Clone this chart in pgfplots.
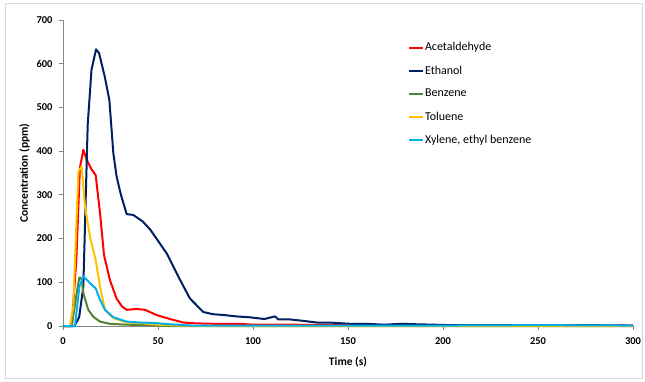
\documentclass[border=0pt]{standalone}
\usepackage{pgfplots}
\pgfplotsset{compat=1.18}
\usepackage{fontspec}
\setmainfont{Carlito}

\definecolor{acetred}{HTML}{FF0000}
\definecolor{ethnavy}{HTML}{002060}
\definecolor{benzgreen}{HTML}{548235}
\definecolor{tolyellow}{HTML}{FFC000}
\definecolor{xylblue}{HTML}{00B0F0}
\definecolor{axisgray}{HTML}{868686}
\definecolor{framegray}{HTML}{D9D9D9}

\begin{document}
\begin{tikzpicture}
% chart area frame
\draw[framegray, line width=0.8pt] (-58pt,-52pt) rectangle (579pt,323pt);
\path (-63pt,-55pt) rectangle (582pt,326pt);
\begin{axis}[
  at={(0pt,0pt)}, anchor=south west,
  scale only axis,
  width=570pt, height=306pt,
  xmin=0, xmax=300, ymin=0, ymax=700,
  xtick={0,50,...,300},
  ytick={0,100,...,700},
  axis x line*=bottom,
  axis y line*=left,
  axis line style={axisgray, line width=0.9pt, -},
  tick style={axisgray, line width=0.8pt},
  tick align=outside,
  major tick length=4pt,
  /pgf/number format/assume math mode=true,
  /pgf/number format/1000 sep={},
  ticklabel style={font=\bfseries\fontsize{10.5}{12}\selectfont},
  xticklabel style={yshift=-4pt},
  yticklabel style={xshift=-3pt},
  xlabel={\bfseries Time (s)},
  ylabel={\bfseries Concentration (ppm)},
  label style={font=\bfseries\fontsize{11.5}{13}\selectfont},
  xlabel style={yshift=-6pt},
  ylabel style={yshift=0pt},
  legend style={at={(0.605,0.93)}, anchor=north west, draw=none, fill=none,
    font=\fontsize{12}{13}\selectfont, row sep=11.5pt,
    inner sep=0pt, nodes={inner sep=1pt}},
  legend cell align=left,
  legend image code/.code={\draw[#1, line width=2pt] (0pt,0pt) -- (14pt,0pt);},
  every axis plot/.append style={line width=2pt, line join=round},
  clip=false,
]
% Acetaldehyde
\addplot[acetred] coordinates {
 (0,0) (4.6,0) (7,150) (8.9,362) (10.7,403) (12.5,380) (14.8,360) (17.2,345)
 (19.5,258) (21.6,162) (24.7,105) (28.2,63) (31,45) (33.5,37) (38.8,39)
 (43.2,37) (49.3,25) (56.3,16) (63.3,8) (70,6) (80,5) (93,5) (100,3)
 (120,3) (150,2) (200,2) (250,1) (300,1)};
\addlegendentry{Acetaldehyde}
% Ethanol
\addplot[ethnavy] coordinates {
 (0,0) (6,0) (8.5,20) (10.7,90) (13,460) (15,586) (17.4,633) (19,624)
 (22,570) (24.4,517) (26.5,395) (28.2,342) (30.5,300) (33.5,256) (37,254)
 (42,239) (46,220) (50,195) (54.6,166) (60.7,113) (66.8,63) (73.8,32)
 (79,27) (85,25) (91,22) (98,20) (106,16) (111.6,22) (113.3,15) (119.5,15)
 (126,12) (133.5,8) (140,8) (151,5) (160,5) (169,3) (178,5) (186,4)
 (195,3) (204,2) (215,2) (230,2) (245,2) (260,1) (275,2) (300,1)};
\addlegendentry{Ethanol}
% Benzene
\addplot[benzgreen] coordinates {
 (0,0) (4.6,0) (7.2,75) (8.6,111) (9.8,108) (10.7,75) (13.3,37) (16,21)
 (19.5,10) (24.7,5) (33.5,3) (45,2) (55,0) (300,0)};
\addlegendentry{Benzene}
% Toluene
\addplot[tolyellow] coordinates {
 (0,0) (3.7,0) (5.4,44) (8.1,353) (9.8,365) (11.6,273) (14.2,204)
 (17.2,151) (19.5,90) (22.1,37) (26.5,18) (33.5,8) (42,6) (49.8,3)
 (60,1) (80,0) (300,0)};
\addlegendentry{Toluene}
% Xylene, ethyl benzene
\addplot[xylblue] coordinates {
 (0,0) (6.3,0) (8.6,90) (10.7,114) (14.2,98) (17.2,86) (19.5,60)
 (22.1,37) (26.5,20) (33.5,10) (40.5,8) (47.5,7) (56,4) (68,1) (100,1)
 (150,1) (200,1) (250,2) (300,1)};
\addlegendentry{Xylene, ethyl benzene}
\end{axis}
\end{tikzpicture}
\end{document}
